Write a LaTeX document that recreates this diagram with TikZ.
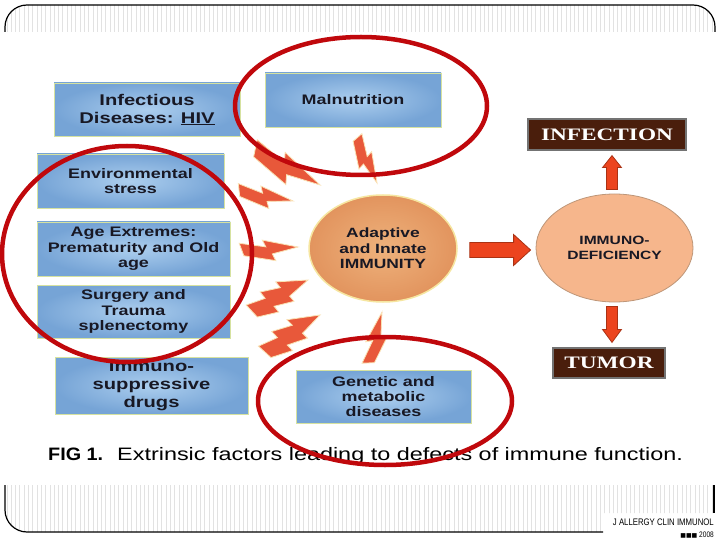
\documentclass[tikz,border=0pt]{standalone}
\usepackage{fontspec}
\setmainfont{Liberation Sans}
\newfontfamily\bx[FakeStretch=1.3]{Liberation Sans}
\newfontfamily\fx[FakeStretch=1.1]{Liberation Sans}
\newfontfamily\sx[FakeStretch=1.33]{Liberation Serif}
\newfontfamily\cx[FakeStretch=0.82]{Liberation Sans}
\newfontfamily\dv{DejaVu Sans}
\usetikzlibrary{shapes.geometric,calc}

\definecolor{boxedge}{RGB}{118,164,214}
\definecolor{boxmid}{RGB}{172,206,238}
\definecolor{boxline}{RGB}{214,226,160}
\definecolor{boxtext}{RGB}{24,24,36}
\definecolor{adaptfill}{RGB}{226,148,94}
\definecolor{adaptmid}{RGB}{238,178,124}
\definecolor{adaptline}{RGB}{246,230,160}
\definecolor{defill}{RGB}{246,182,140}
\definecolor{deline}{RGB}{190,150,120}
\definecolor{brownbox}{RGB}{74,30,12}
\definecolor{arrowred}{RGB}{236,68,30}
\definecolor{arrowline}{RGB}{170,50,20}
\definecolor{boltred}{RGB}{232,88,58}
\definecolor{boltglow}{RGB}{250,226,180}
\definecolor{ringred}{RGB}{192,8,12}
\definecolor{stripe}{RGB}{226,226,226}

\tikzset{
  factor/.style={rectangle, draw=boxline, line width=0.8pt, inner color=boxmid,
    outer color=boxedge, align=center, inner sep=0pt, text=boxtext},
  bigfont/.style={font=\bx\bfseries\fontsize{15.5}{18}\selectfont},
  smallfont/.style={font=\bx\bfseries\fontsize{13.8}{15.3}\selectfont},
  outcome/.style={rectangle, fill=brownbox, draw=black!55, line width=1.2pt,
    text=white, font=\sx\bfseries\fontsize{17.5}{20}\selectfont, inner sep=0pt},
  fat/.style={fill=arrowred, draw=arrowline, line width=0.8pt, line join=miter},
  boltshape/.style={fill=boltred, draw=boltglow, line width=0.8pt, line join=miter},
  ring/.style={draw=ringred, line width=4.5pt},
  frameline/.style={draw=black, line width=1.2pt},
  stripeline/.style={draw=stripe, line width=0.9pt},
  bolt/.pic={\path[boltshape] (0,-0.15) -- (0.45,-0.05) -- (0.40,-0.17) -- (1,0)
      -- (0.55,0.08) -- (0.60,0.20) -- (0.06,0.07) -- cycle;},
  sawbolt/.pic={\path[boltshape] (0,-0.12) -- (0.30,-0.07) -- (0.28,-0.19) -- (0.58,-0.10)
      -- (0.56,-0.21) -- (1,0) -- (0.64,0.08) -- (0.66,0.18) -- (0.36,0.10)
      -- (0.38,0.21) -- (0.06,0.12) -- cycle;}
}

\begin{document}
\begin{tikzpicture}[x=1pt,y=-1pt]
\useasboundingbox (0,0) rectangle (720,540);
\fill[white] (0,0) rectangle (720,540);

% top band
\begin{scope}
  \clip (5,32) -- (5,27) arc[start angle=180,end angle=90,radius=22pt]
     -- (693,5) arc[start angle=90,end angle=0,radius=22pt] -- (715,32) -- cycle;
  \foreach \x in {7,11.3,...,716} \draw[stripeline] (\x,4) -- (\x,33);
\end{scope}
\draw[frameline] (5,32) -- (5,27) arc[start angle=180,end angle=90,radius=22pt]
   -- (693,5) arc[start angle=90,end angle=0,radius=22pt] -- (715,32);

% bottom band
\begin{scope}
  \clip (5,485) -- (5,510) arc[start angle=180,end angle=270,radius=22pt]
     -- (603,532) -- (603,513) -- (714,513) -- (714,485) -- cycle;
  \foreach \x in {7,11.3,...,716} \draw[stripeline] (\x,484) -- (\x,533);
\end{scope}
\draw[frameline] (5,485) -- (5,510) arc[start angle=180,end angle=270,radius=22pt]
   -- (603,532);
\draw[frameline] (714,485) -- (714,513);

% factor boxes
\node[factor, bigfont, minimum width=186, minimum height=53] (inf) at (147,109.5)
  {Infectious\\Diseases: \underline{HIV}};
\node[factor, smallfont, minimum width=187, minimum height=54] (env) at (130.5,181)
  {Environmental\\stress};
\node[factor, smallfont, minimum width=193, minimum height=54] (age) at (133.5,249)
  {Age Extremes:\\Prematurity and Old\\age};
\node[factor, smallfont, minimum width=193, minimum height=53] (surg) at (133.5,311.5)
  {Surgery and\\Trauma\\splenectomy};
\node[factor, bigfont, minimum width=193, minimum height=57] (drug) at (151.5,385.5)
  {Immuno-\\suppressive\\drugs};
\node[factor, smallfont, minimum width=176, minimum height=54] (maln) at (353,100)
  {Malnutrition};
\node[factor, smallfont, minimum width=175, minimum height=53] (gen) at (383.5,396.5)
  {Genetic and\\metabolic\\diseases};

% central ellipses
\node[ellipse, minimum width=148, minimum height=107, inner sep=0pt, draw=adaptline,
  line width=1.5pt, inner color=adaptmid, outer color=adaptfill, align=center,
  text=boxtext, font=\bx\bfseries\fontsize{13.4}{15.5}\selectfont] (adapt) at (383,248.5)
  {Adaptive\\and Innate\\IMMUNITY};
\node[ellipse, minimum width=157, minimum height=108, inner sep=0pt, draw=deline,
  line width=0.8pt, fill=defill, align=center, text=boxtext,
  font=\bx\bfseries\fontsize{12}{14.5}\selectfont] (defic) at (614.5,248)
  {IMMUNO-\\DEFICIENCY};

% outcomes
\node[outcome, minimum width=158, minimum height=31] (infn) at (607,134.5) {INFECTION};
\node[outcome, minimum width=112, minimum height=30] (tum) at (609,363) {TUMOR};

% fat arrows
\coordinate (h1) at ($(adapt.east)+(12,1.5)$);
\coordinate (h2) at ($(defic.west)+(-5,2)$);
\path[fat] ($(h1)+(0,-7.5)$) -- ($(h2)+(-17,-7.5)$) -- ($(h2)+(-17,-15.5)$) -- (h2)
  -- ($(h2)+(-17,15.5)$) -- ($(h2)+(-17,7.5)$) -- ($(h1)+(0,7.5)$) -- cycle;
\coordinate (u1) at ($(defic.north)+(-2.5,-4)$);
\coordinate (u2) at ($(infn.south)+(5,5)$);
\path[fat] ($(u1)+(-5.5,0)$) -- ($(u2)+(-5.5,12)$) -- ($(u2)+(-9.5,12)$) -- (u2)
  -- ($(u2)+(9.5,12)$) -- ($(u2)+(5.5,12)$) -- ($(u1)+(5.5,0)$) -- cycle;
\coordinate (d1) at ($(defic.south)+(-2.5,4)$);
\coordinate (d2) at ($(tum.north)+(3,-5)$);
\path[fat] ($(d1)+(-5.5,0)$) -- ($(d2)+(-5.5,-13)$) -- ($(d2)+(-9.5,-13)$) -- (d2)
  -- ($(d2)+(9.5,-13)$) -- ($(d2)+(5.5,-13)$) -- ($(d1)+(5.5,0)$) -- cycle;

% lightning bolts
\path (355,137) pic[rotate=-64.4, scale=51] {bolt};
\path (252,150) pic[rotate=-27.2, scale=76.5] {bolt};
\path (237,192) pic[rotate=-9.1, scale=56.7] {bolt};
\path (240,252) pic[rotate=4.9, scale=58.2] {bolt};
\path (250,312) pic[rotate=28.9, scale=66.2] {sawbolt};
\path (263,353) pic[rotate=33.7, scale=68.5] {sawbolt};
\path (370,365) pic[rotate=77.2, scale=54.3] {bolt};

% caption
\node[anchor=base west, inner sep=0pt, font=\bx\fontsize{18}{20}\selectfont] (cap) at (48,460)
  {{\fx\bfseries\fontsize{18}{20}\selectfont FIG 1.}\hspace{14pt}Extrinsic factors leading to defects of immune function.};

% journal
\node[anchor=base east, inner sep=0pt, font=\cx\fontsize{9.5}{10}\selectfont] (jnl) at (714,525)
  {J ALLERGY CLIN IMMUNOL};
\node[anchor=base east, inner sep=0pt, font=\cx\fontsize{8}{9}\selectfont] (yr) at (714,537)
  {{\dv\fontsize{6}{6}\selectfont ■■■} 2008};

% red rings
\draw[ring] (361,106) ellipse [x radius=126, y radius=69];
\draw[ring] (127,254) ellipse [x radius=125, y radius=108];
\draw[ring] (385,401) ellipse [x radius=127, y radius=64];
\end{tikzpicture}
\end{document}
